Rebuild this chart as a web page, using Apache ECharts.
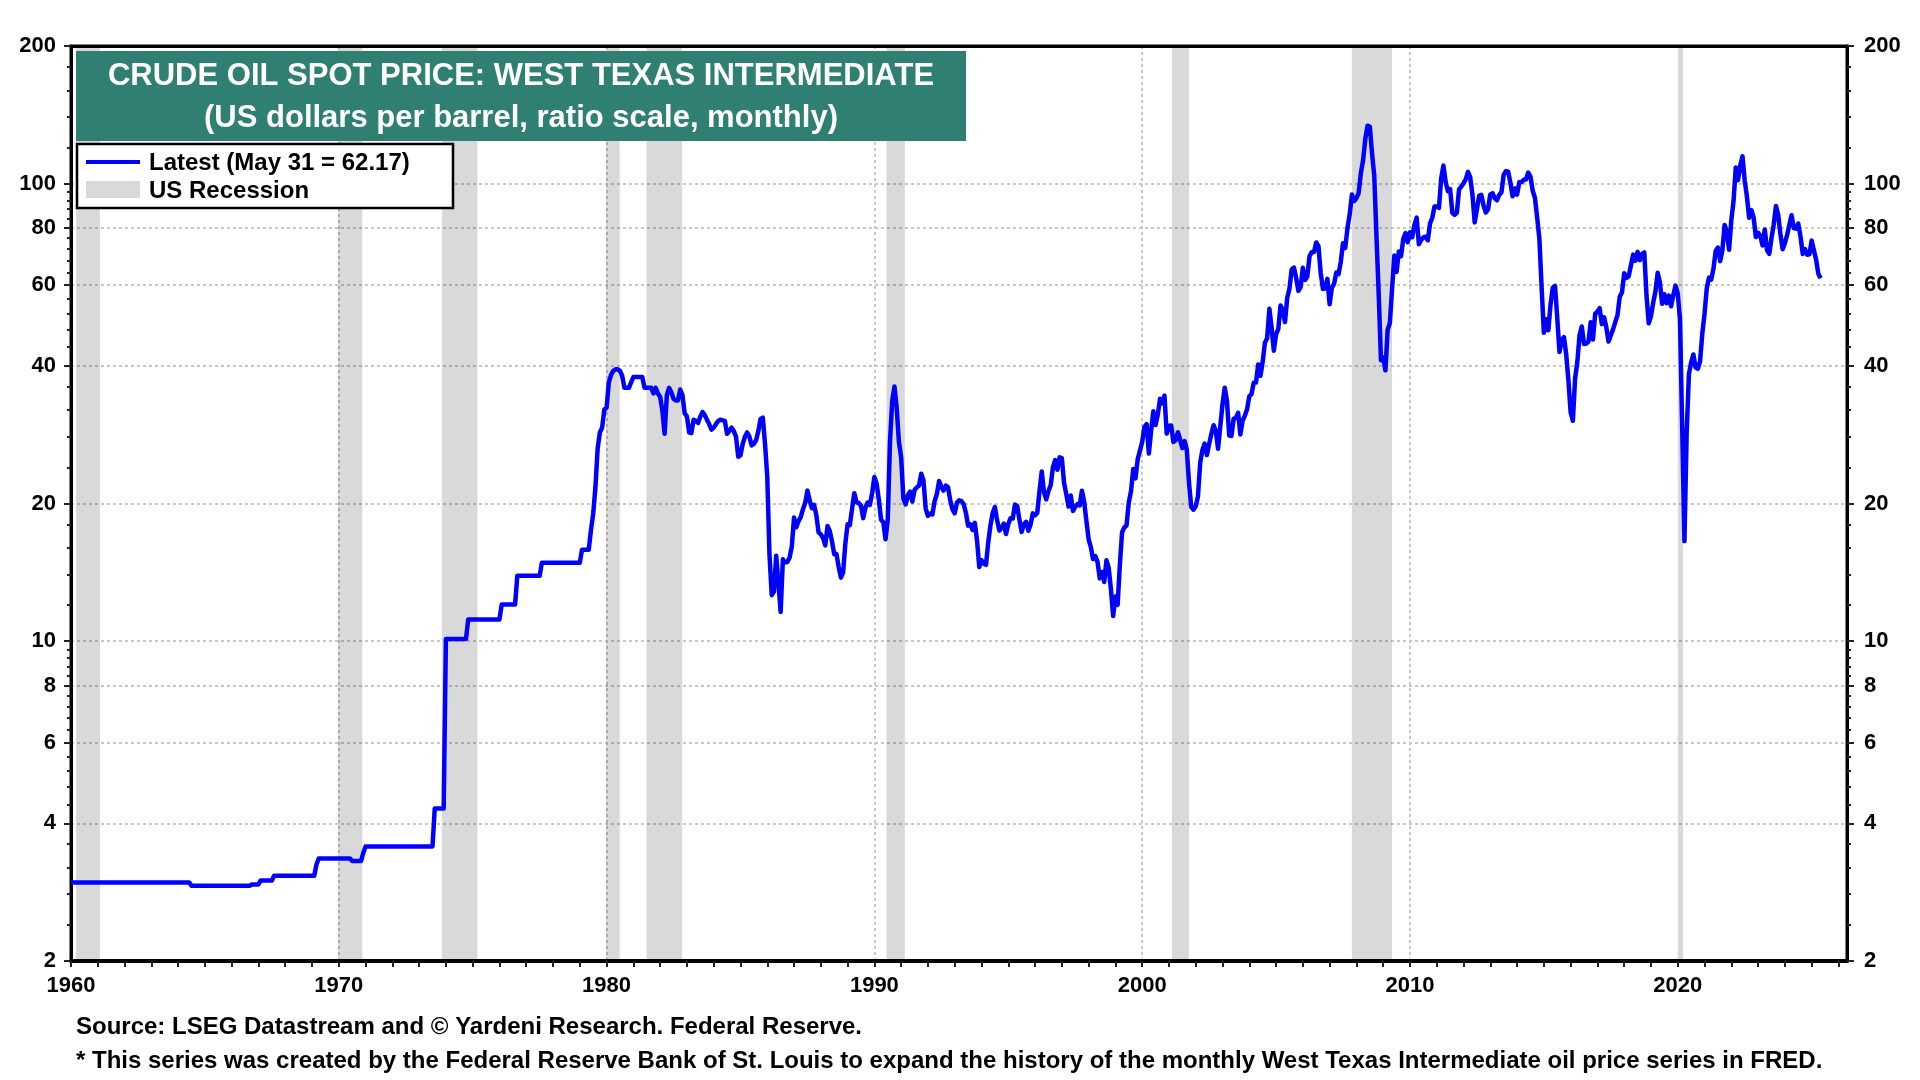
<!DOCTYPE html>
<html><head><meta charset="utf-8">
<script src="https://cdn.jsdelivr.net/npm/echarts@6.0.0/dist/echarts.min.js"></script>
<style>html,body{margin:0;padding:0;background:#fff}#chart{width:1920px;height:1080px}</style>
</head><body><div id="chart"></div>
<script>
// Monthly WTI spot price (US$/barrel), Jan of first year of each decade onward
const startYear = 1960;
const wti1960s = [
2.97,2.97,2.97,2.97,2.97,2.97,2.97,2.97,2.97,2.97,2.97,2.97,
2.97,2.97,2.97,2.97,2.97,2.97,2.97,2.97,2.97,2.97,2.97,2.97,
2.97,2.97,2.97,2.97,2.97,2.97,2.97,2.97,2.97,2.97,2.97,2.97,
2.97,2.97,2.97,2.97,2.97,2.97,2.97,2.97,2.97,2.97,2.97,2.97,
2.97,2.97,2.97,2.97,2.97,2.97,2.92,2.92,2.92,2.92,2.92,2.92,
2.92,2.92,2.92,2.92,2.92,2.92,2.92,2.92,2.92,2.92,2.92,2.92,
2.92,2.92,2.92,2.92,2.92,2.92,2.92,2.92,2.92,2.94,2.94,2.94,
2.94,3.00,3.00,3.00,3.00,3.00,3.00,3.07,3.07,3.07,3.07,3.07,
3.07,3.07,3.07,3.07,3.07,3.07,3.07,3.07,3.07,3.07,3.07,3.07,
3.07,3.07,3.25,3.35,3.35,3.35,3.35,3.35,3.35,3.35,3.35,3.35];
const wti1970s = [
3.35,3.35,3.35,3.35,3.35,3.35,3.31,3.31,3.31,3.31,3.31,3.45,
3.56,3.56,3.56,3.56,3.56,3.56,3.56,3.56,3.56,3.56,3.56,3.56,
3.56,3.56,3.56,3.56,3.56,3.56,3.56,3.56,3.56,3.56,3.56,3.56,
3.56,3.56,3.56,3.56,3.56,3.56,3.56,4.31,4.31,4.31,4.31,4.31,
10.11,10.11,10.11,10.11,10.11,10.11,10.11,10.11,10.11,10.11,11.16,11.16,
11.16,11.16,11.16,11.16,11.16,11.16,11.16,11.16,11.16,11.16,11.16,11.16,
11.16,12.03,12.03,12.03,12.03,12.03,12.03,12.03,13.90,13.90,13.90,13.90,
13.90,13.90,13.90,13.90,13.90,13.90,13.90,14.85,14.85,14.85,14.85,14.85,
14.85,14.85,14.85,14.85,14.85,14.85,14.85,14.85,14.85,14.85,14.85,14.85,
14.85,15.85,15.85,15.85,15.85,17.50,19.00,21.70,26.40,28.60,29.30,32.10];
const wti1980s = [
32.4,36.8,38.2,39.0,39.3,39.3,39.0,38.0,35.8,35.8,35.8,36.8,
37.8,37.8,37.8,37.8,37.8,35.8,35.8,35.8,35.8,34.8,35.8,34.8,
34.2,31.9,28.4,34.5,35.8,35.0,33.9,33.6,33.6,35.5,34.5,31.5,
31.0,28.6,28.5,30.5,30.3,30.0,31.0,31.7,31.2,30.5,29.8,29.0,
29.3,29.8,30.3,30.5,30.4,30.3,28.4,28.8,29.3,28.8,28.0,25.3,
25.5,27.0,28.0,28.6,28.0,26.8,27.0,27.5,28.8,30.6,30.8,27.0,
22.93,15.46,12.61,12.84,15.38,13.43,11.59,15.10,14.87,14.90,15.22,16.11,
18.65,17.75,18.30,18.68,19.44,20.07,21.34,20.31,19.53,19.86,18.85,17.28,
17.13,16.80,16.20,17.86,17.42,16.53,15.50,15.52,14.54,13.77,14.14,16.38,
18.02,17.94,19.48,21.07,20.12,20.05,19.78,18.58,19.59,20.10,19.86,21.10];
const wti1990s = [
22.86,22.11,20.39,18.43,18.20,16.70,18.45,27.31,33.51,36.04,32.33,27.28,
25.23,20.48,19.90,20.83,21.23,20.19,21.40,21.69,21.89,23.23,22.46,19.50,
18.79,19.01,18.92,20.23,20.98,22.39,21.78,21.34,21.88,21.69,20.34,19.41,
19.03,20.09,20.32,20.25,19.95,19.09,17.89,18.01,17.50,18.15,16.61,14.52,
15.03,14.78,14.68,16.42,17.89,19.06,19.66,18.38,17.45,17.72,18.07,17.16,
18.04,18.57,18.54,19.90,19.74,18.45,17.33,18.02,18.23,17.43,17.99,19.03,
18.85,19.09,21.33,23.50,21.17,20.42,21.30,21.90,23.97,24.88,23.71,25.23,
25.13,22.18,20.97,19.70,20.82,19.26,19.66,19.95,19.80,21.33,20.19,18.33,
16.72,16.06,15.12,15.35,14.91,13.72,14.17,13.47,15.03,14.46,13.00,11.35,
12.52,12.01,14.68,17.31,17.72,17.92,20.10,21.28,23.80,22.69,25.00,26.10];
const wti2000s = [
27.26,29.37,29.84,25.72,28.79,31.82,29.70,31.26,33.88,33.11,34.42,28.44,
29.59,29.61,27.25,27.49,28.63,27.60,26.43,27.37,26.20,22.17,19.64,19.39,
19.72,20.72,24.53,26.18,27.04,25.52,26.97,28.39,29.66,28.84,26.35,29.46,
32.95,35.83,33.51,28.17,28.11,30.66,30.76,31.57,28.31,30.34,31.11,32.13,
34.31,34.69,36.74,36.75,40.28,38.03,40.78,44.90,45.94,53.28,48.47,43.15,
46.84,48.15,54.19,52.98,49.83,56.35,58.99,64.98,65.59,62.26,58.32,59.41,
65.49,61.63,62.69,69.44,70.84,70.95,74.41,73.04,63.80,58.89,59.08,61.96,
54.51,59.28,60.44,63.98,63.46,67.49,74.12,72.36,79.92,85.80,94.77,91.69,
92.97,95.39,105.45,112.58,125.40,133.88,133.37,116.67,104.11,76.61,57.31,41.12,
41.71,39.09,47.94,49.65,59.03,69.64,64.15,71.05,69.41,75.72,77.99,74.47];
const wti2010s = [
78.33,76.39,81.20,84.29,73.74,75.34,76.32,76.60,75.24,81.89,84.25,89.15,
89.17,88.58,102.86,109.53,100.90,96.26,97.30,86.33,85.52,86.32,97.16,98.56,
100.27,102.20,106.16,103.32,94.66,82.30,87.90,94.13,94.51,89.49,86.53,87.86,
94.76,95.31,92.94,92.02,94.51,95.77,104.67,106.57,106.29,100.54,93.86,97.63,
94.62,100.82,100.80,102.07,102.18,105.79,103.59,96.54,93.21,84.40,75.79,59.29,
47.22,50.58,47.82,54.45,59.27,59.82,50.90,42.87,45.48,46.22,42.44,37.19,
31.68,30.32,37.55,40.75,46.71,48.76,44.65,44.72,45.18,49.78,45.66,51.97,
52.50,53.47,49.33,51.06,48.48,45.18,46.63,48.04,49.82,51.58,56.64,57.88,
63.70,62.23,62.73,66.25,69.98,67.87,70.98,68.06,70.23,70.75,56.96,49.52,
51.38,54.95,58.15,63.86,60.83,54.66,57.35,54.81,56.95,53.96,57.03,59.88];
const wti2020s = [
57.52,50.54,29.21,16.55,28.56,38.31,40.71,42.34,39.63,39.40,40.94,47.02,
52.00,59.04,62.33,61.72,65.17,71.38,72.49,67.73,71.54,81.22,78.65,71.71,
83.22,91.64,108.50,101.78,109.55,114.84,101.62,93.67,84.26,87.55,84.37,76.44,
78.12,76.83,73.28,79.45,71.58,70.25,76.07,81.39,89.43,85.64,77.69,71.90,
74.15,77.25,81.28,85.35,80.02,79.77,81.80,76.68,70.24,71.99,69.95,70.12,
75.10,71.53,68.24,63.54,62.17];

// US recessions (decimal years, start/end)
const recessions = [[1960.19,1961.08],[1969.97,1970.88],[1973.85,1975.18],[1979.98,1980.49],
  [1981.49,1982.82],[1990.45,1991.14],[2001.11,2001.75],[2007.83,2009.33],[2020.0,2020.2]];

// Axis ticks / labels
const yLabelTicks = [2,4,6,8,10,20,40,60,80,100,200];
const yMinorTicks = [2.4,2.8,3.2,3.6,4.4,4.8,5.2,5.6,6.4,6.8,7.2,7.6,8.4,8.8,9.2,9.6,
  12,14,16,18,24,28,32,36,44,48,52,56,64,68,72,76,84,88,92,96,120,140,160,180];
const xLabelYears = [1960,1970,1980,1990,2000,2010,2020];
const xTickYears = [];
for (let y = 1960; y <= 2026; y++) xTickYears.push(y);

const titleLine1 = 'CRUDE OIL SPOT PRICE: WEST TEXAS INTERMEDIATE';
const titleLine2 = '(US dollars per barrel, ratio scale, monthly)';
const legendLatest = 'Latest (May 31 = 62.17)';
const legendRecession = 'US Recession';
const source1 = 'Source: LSEG Datastream and \u00A9 Yardeni Research. Federal Reserve.';
const source2 = '* This series was created by the Federal Reserve Bank of St. Louis to expand the history of the monthly West Texas Intermediate oil price series in FRED.';

const allValues = [].concat(wti1960s, wti1970s, wti1980s, wti1990s, wti2000s, wti2010s, wti2020s);
const seriesData = allValues.map((v, i) => [startYear + i / 12, v]);

const FONT = '"Liberation Sans", Arial, Helvetica, sans-serif';
const gridLine = { show: true, showMinLine: false, showMaxLine: false,
  lineStyle: { color: '#c8c8c8', width: 2, type: [3, 3] } };

function yAxisDef(pos, major) {
  return {
    type: 'log', logBase: 10, min: 2, max: 200, position: pos,
    axisLine: { show: major, lineStyle: { color: '#000', width: 3 } },
    axisTick: { show: true, inside: false, customValues: major ? yLabelTicks : yMinorTicks,
      length: major ? 7 : 4, lineStyle: { color: '#222', width: 2 } },
    axisLabel: major ? { show: true, customValues: yLabelTicks, fontFamily: FONT, fontSize: 22,
      fontWeight: 'bold', color: '#000', margin: pos === 'left' ? 15 : 17,
      formatter: v => String(Math.round(v)) } : { show: false },
    splitLine: (major && pos === 'left') ? gridLine : { show: false },
    minorTick: { show: false }
  };
}

const chart = echarts.init(document.getElementById('chart'), null, { renderer: 'canvas' });
chart.setOption({
  animation: false,
  backgroundColor: '#fff',
  grid: { left: 71, right: 73, top: 46, bottom: 119, show: true, borderColor: '#000', borderWidth: 3, backgroundColor: 'transparent' },
  xAxis: [{
    type: 'value', min: 1960, max: 2026.32, position: 'bottom',
    axisLine: { show: true, lineStyle: { color: '#000', width: 4 } },
    axisTick: { show: true, customValues: xLabelYears, length: 6, lineStyle: { color: '#222', width: 2 } },
    axisLabel: { customValues: xLabelYears, fontFamily: FONT, fontSize: 22, fontWeight: 'bold', color: '#000', margin: 14,
      formatter: v => String(Math.round(v)) },
    splitLine: gridLine
  }, {
    type: 'value', min: 1960, max: 2026.32, position: 'bottom',
    axisLine: { show: false },
    axisTick: { show: true, customValues: xTickYears, length: 6, lineStyle: { color: '#222', width: 2 } },
    axisLabel: { show: false },
    splitLine: { show: false }
  }, {
    type: 'value', min: 1960, max: 2026.32, position: 'top',
    axisLine: { show: true, lineStyle: { color: '#000', width: 3 } },
    axisTick: { show: false }, axisLabel: { show: false }, splitLine: { show: false }
  }],
  yAxis: [yAxisDef('left', true), yAxisDef('left', false), yAxisDef('right', true), yAxisDef('right', false)],
  series: [{
    type: 'line', xAxisIndex: 0, yAxisIndex: 0, data: seriesData,
    showSymbol: false, symbol: 'none', z: 5,
    lineStyle: { color: '#0000ff', width: 4.5, join: 'round' },
    itemStyle: { color: '#0000ff' },
    markArea: { silent: true, itemStyle: { color: 'rgba(0,0,0,0.15)' },
      data: recessions.map(r => [{ xAxis: r[0] }, { xAxis: r[1] }]) }
  }],
  graphic: [
    { type: 'rect', z: 100, shape: { x: 76, y: 51, width: 890, height: 90 }, style: { fill: '#2f7f72' } },
    { type: 'text', z: 101, x: 521, y: 76, style: { text: titleLine1, fill: '#fff', font: 'bold 31px ' + FONT, textAlign: 'center', textVerticalAlign: 'middle' } },
    { type: 'text', z: 101, x: 521, y: 118, style: { text: titleLine2, fill: '#fff', font: 'bold 31px ' + FONT, textAlign: 'center', textVerticalAlign: 'middle' } },
    { type: 'rect', z: 100, shape: { x: 77, y: 144, width: 376, height: 64 }, style: { fill: '#fff', stroke: '#000', lineWidth: 2.5 } },
    { type: 'line', z: 101, shape: { x1: 86, y1: 162, x2: 140, y2: 162 }, style: { stroke: '#0000ff', lineWidth: 4 } },
    { type: 'text', z: 101, x: 149, y: 163, style: { text: legendLatest, fill: '#000', font: 'bold 24px ' + FONT, textAlign: 'left', textVerticalAlign: 'middle' } },
    { type: 'rect', z: 101, shape: { x: 86, y: 181, width: 54, height: 17 }, style: { fill: '#d9d9d9' } },
    { type: 'text', z: 101, x: 149, y: 191, style: { text: legendRecession, fill: '#000', font: 'bold 24px ' + FONT, textAlign: 'left', textVerticalAlign: 'middle' } },
    { type: 'text', z: 101, x: 76, y: 1027, style: { text: source1, fill: '#000', font: 'bold 24px ' + FONT, textAlign: 'left', textVerticalAlign: 'middle' } },
    { type: 'text', z: 101, x: 76, y: 1061, style: { text: source2, fill: '#000', font: 'bold 24px ' + FONT, textAlign: 'left', textVerticalAlign: 'middle' } }
  ]
});
</script>
</body></html>
